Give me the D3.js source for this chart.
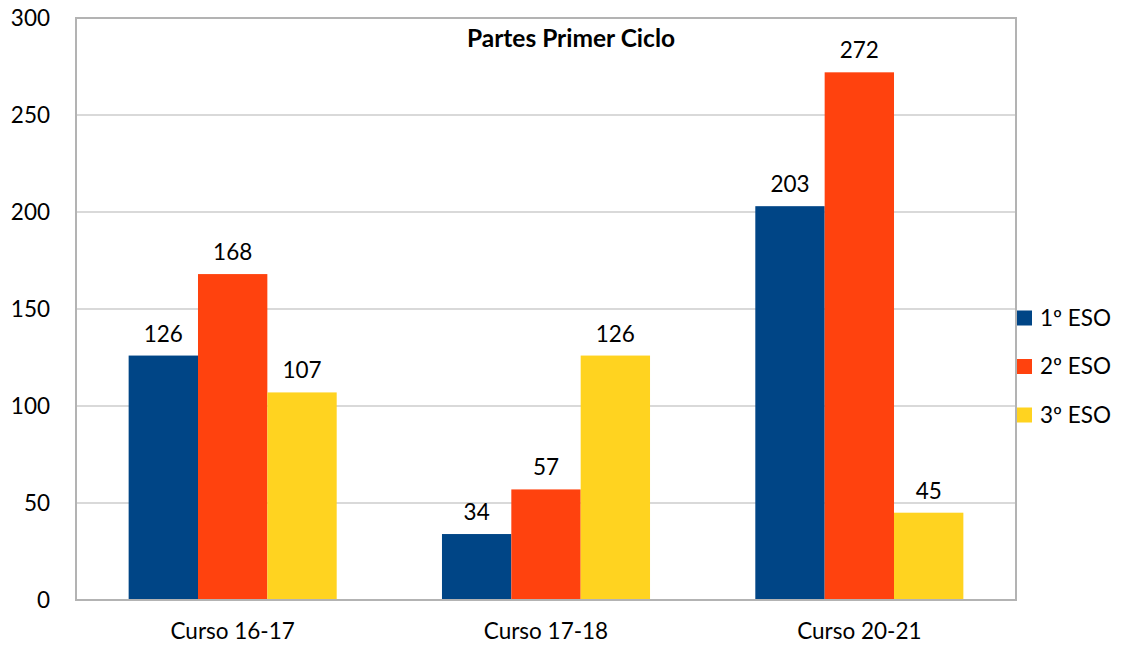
<!DOCTYPE html>
<html><head><meta charset="utf-8">
<script src="https://cdn.jsdelivr.net/npm/d3@7"></script>
<style>body{margin:0;background:#fff}svg{display:block}text{font-family:Lato,"Open Sans",sans-serif;fill:#000}</style>
</head><body><svg id="c" width="1123" height="649"></svg>
<script>
const categories = ["Curso 16-17", "Curso 17-18", "Curso 20-21"];
const seriesNames = ["1º ESO", "2º ESO", "3º ESO"];
const eso1 = [126, 34, 203];
const eso2 = [168, 57, 272];
const eso3 = [107, 126, 45];
const colors = ["#004586", "#ff420e", "#ffd320"];
const yTicks = [0, 50, 100, 150, 200, 250, 300];
const title = "Partes Primer Ciclo";

const series = [eso1, eso2, eso3];
const svg = d3.select("#c");
const L = 76, R = 1016, T = 18, B = 600;
const FS = 22.5;
const x = d3.scaleBand().domain(categories).range([L, R]).paddingInner(0.336).paddingOuter(0.168);
const xs = d3.scaleBand().domain(seriesNames).range([0, x.bandwidth()]);
const y = d3.scaleLinear().domain([0, 300]).range([B, T]);

svg.append("g").selectAll("line").data(yTicks.slice(1, -1)).join("line")
  .attr("x1", L).attr("x2", R).attr("y1", d => y(d)).attr("y2", d => y(d))
  .attr("stroke", "#b3b3b3").attr("stroke-width", 1);

const yAxis = svg.append("g").attr("transform", `translate(${L},0)`)
  .call(d3.axisLeft(y).tickValues(yTicks).tickSize(0).tickPadding(26));
yAxis.select(".domain").remove();
yAxis.selectAll("text").attr("font-size", FS).style("font-family", "Lato, 'Open Sans', sans-serif");

const xAxis = svg.append("g").attr("transform", `translate(0,${B})`)
  .call(d3.axisBottom(x).tickSize(0).tickPadding(23));
xAxis.select(".domain").remove();
xAxis.selectAll("text").attr("font-size", FS).style("font-family", "Lato, 'Open Sans', sans-serif");

const g = svg.append("g");
series.forEach((vals, si) => {
  g.selectAll(null).data(vals).join("rect")
    .attr("x", (d, i) => x(categories[i]) + xs(seriesNames[si]))
    .attr("width", xs.bandwidth())
    .attr("y", d => y(d)).attr("height", d => B - y(d))
    .attr("fill", colors[si]);
  g.selectAll(null).data(vals).join("text")
    .attr("x", (d, i) => x(categories[i]) + xs(seriesNames[si]) + xs.bandwidth() / 2)
    .attr("y", d => y(d) - 14)
    .attr("text-anchor", "middle").attr("font-size", FS)
    .text(d => d);
});

svg.append("rect").attr("x", L).attr("y", T).attr("width", R - L).attr("height", B - T)
  .attr("fill", "none").attr("stroke", "#b3b3b3").attr("stroke-width", 2);

svg.append("text").attr("x", 571).attr("y", 47).attr("text-anchor", "middle")
  .attr("font-size", 24.5).attr("font-weight", "bold").text(title);

const lg = svg.append("g");
seriesNames.forEach((s, i) => {
  const cy = 318 + i * 48.5;
  lg.append("rect").attr("x", 1017).attr("y", cy - 7.5).attr("width", 15).attr("height", 15).attr("fill", colors[i]);
  lg.append("text").attr("x", 1040).attr("y", cy).attr("dy", "0.35em").attr("font-size", FS).text(s);
});
</script></body></html>
